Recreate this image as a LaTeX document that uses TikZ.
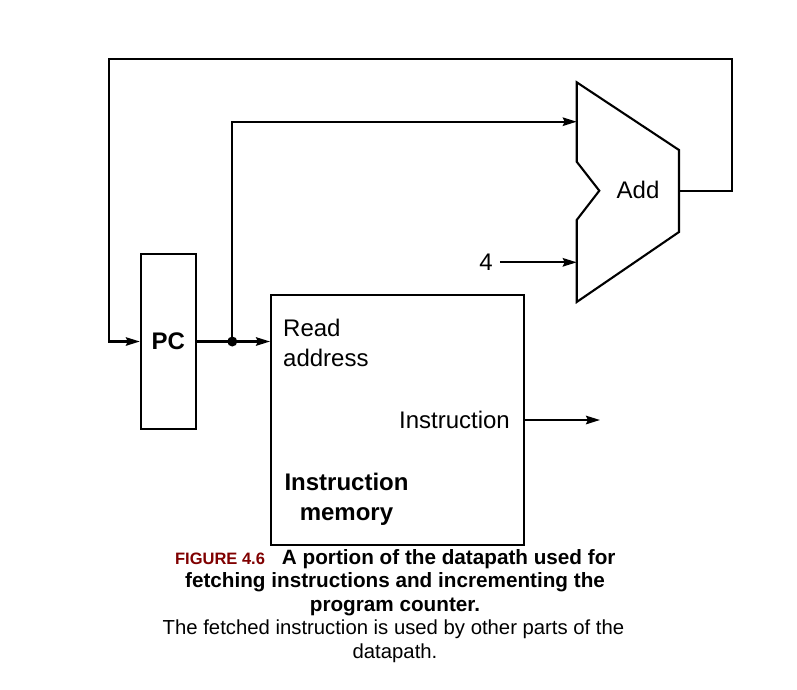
\documentclass[tikz,border=0pt]{standalone}
\usepackage{fontspec}
\setmainfont{Liberation Sans}
\usetikzlibrary{arrows.meta}
\definecolor{figred}{RGB}{128,0,0}
\begin{document}
\begin{tikzpicture}[x=1pt,y=-1pt,
  wire/.style={line width=2.1pt},
  arr/.style={wire,-{Stealth[length=14pt,width=8.5pt,inset=2pt]}},
  box/.style={draw,line width=2pt,inner sep=0pt},
  lbl/.style={font=\fontsize{24}{30}\selectfont,inner sep=0pt},
  captext/.style={font=\fontsize{20.3}{24}\selectfont,inner sep=0pt,anchor=base},
  capbold/.style={captext,font=\fontsize{20.7}{24}\selectfont\bfseries},
]
\useasboundingbox[fill=white] (0,0) rectangle (797,689);

% blocks
\node[box,minimum width=55pt,minimum height=175pt,lbl,font=\fontsize{24}{30}\selectfont\bfseries] (pc) at (168.3,341.5) {PC};
\node[box,minimum width=253pt,minimum height=250pt] (mem) at (397.5,420) {};

% adder
\draw[wire,line join=miter] (576.7,82.3) -- (679,150) -- (679,232) -- (576.7,302)
  -- (576.7,220) -- (599.3,190.7) -- (576.7,161.7) -- cycle;
\coordinate (addA) at (576.7,121.7);
\coordinate (addB) at (576.7,262.3);
\coordinate (addOut) at (679,190.7);
\node[lbl] (addlbl) at (638,190) {Add};

% labels in memory
\node[lbl,anchor=north west,align=left] (readaddr) at (283,319) {Read\\address};
\node[lbl,anchor=east] (instr) at (510,420) {Instruction};
\node[lbl,anchor=north,align=center,font=\fontsize{24}{30}\selectfont\bfseries] (memname) at (346.5,472.5) {Instruction\\memory};

% constant 4
\node[lbl] (four) at (486,262.3) {4};

% connectors
\coordinate (loopR) at (732.3,59);
\coordinate (loopL) at (109,59);
\coordinate (dot) at (232.3,341.5);
\coordinate (instrOut) at (600,420);

\draw[arr] (addOut) -| (loopR) -- (loopL) |- (pc.west);
\draw[arr] (pc.east) -- (pc.east -| mem.west);
\fill (dot) circle (5pt);
\draw[arr] (dot) |- (addA);
\draw[arr] ([xshift=7pt]four.east) -- (addB);
\draw[arr] (mem.east) -- (instrOut);

% caption
\node[capbold] (cap1) at (395.3,564)
  {{\fontsize{16.5}{20}\selectfont\textcolor{figred}{FIGURE 4.6}}\hspace{17pt}A portion of the datapath used for};
\node[capbold] (cap2) at (395,587) {fetching instructions and incrementing the};
\node[capbold] (cap3) at (395,611) {program counter.};
\node[captext] (cap4) at (393.5,634) {The fetched instruction is used by other parts of the};
\node[captext] (cap5) at (395,658) {datapath.};
\end{tikzpicture}
\end{document}
